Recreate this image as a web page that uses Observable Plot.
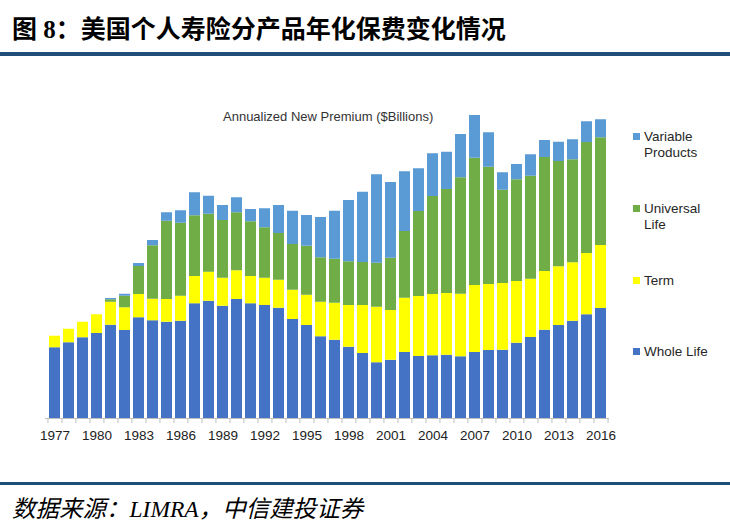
<!DOCTYPE html>
<html>
<head>
<meta charset="utf-8">
<script src="https://cdn.jsdelivr.net/npm/d3@7"></script>
<script src="https://cdn.jsdelivr.net/npm/@observablehq/plot@0.6"></script>
<style>
  html, body { margin: 0; padding: 0; background: #fff; }
  #page { position: relative; width: 730px; height: 531px; overflow: hidden; font-family: "Liberation Sans", Arial, sans-serif; }
  #title { position: absolute; left: 12px; top: 13px; font-family: "Liberation Serif", "Noto Sans CJK SC", serif; font-weight: bold; font-size: 25px; line-height: 34px; color: #000; white-space: nowrap; }
  #rule1 { position: absolute; left: 0; top: 52px; width: 730px; height: 4px; background: #1f4e79; }
  #chart { position: absolute; left: 0; top: 60px; }
  #ctitle { position: absolute; left: 223px; top: 109px; font-size: 13px; color: #333; white-space: nowrap; }
  .leg { position: absolute; left: 633px; font-size: 13.5px; line-height: 16px; color: #262626; }
  .leg .sw { position: absolute; left: 0; top: 4px; width: 7px; height: 7px; }
  .leg .tx { position: absolute; left: 11px; top: 0; white-space: nowrap; }
  #rule2 { position: absolute; left: 0; top: 482px; width: 730px; height: 3px; background: #1f4e79; }
  #source { position: absolute; left: 12px; top: 493px; font-family: "Liberation Serif", "Noto Sans CJK SC", serif; font-style: italic; font-size: 23.5px; line-height: 32px; color: #000; white-space: nowrap; }
</style>
</head>
<body>
<div id="page">
  <div id="title">图 8：美国个人寿险分产品年化保费变化情况</div>
  <div id="rule1"></div>
  <div id="chart"></div>
  <div id="ctitle">Annualized New Premium ($Billions)</div>
  <div id="legend"></div>
  <div id="rule2"></div>
  <div id="source">数据来源：LIMRA，中信建投证券</div>
</div>
<script>
const years = d3.range(1977, 2017);
const seriesNames = ["Whole Life", "Term", "Universal Life", "Variable Products"];
const seriesColors = ["#4472C4", "#FFFF00", "#70AD47", "#5B9BD5"];
const tickYears = [1977, 1980, 1983, 1986, 1989, 1992, 1995, 1998, 2001, 2004, 2007, 2010, 2013, 2016];

const wholeLife = [2.83, 3.03, 3.23, 3.40, 3.73, 3.52, 4.03, 3.91, 3.85, 3.89,
                   4.59, 4.69, 4.49, 4.76, 4.59, 4.52, 4.41, 3.96, 3.72, 3.27,
                   3.13, 2.85, 2.60, 2.23, 2.33, 2.64, 2.48, 2.51, 2.53, 2.47,
                   2.64, 2.72, 2.73, 3.01, 3.24, 3.53, 3.72, 3.89, 4.15, 4.40];
const term = [0.46, 0.54, 0.62, 0.75, 0.92, 0.91, 0.93, 0.86, 0.91, 1.00,
              1.09, 1.16, 1.12, 1.15, 1.09, 1.09, 1.12, 1.17, 1.21, 1.38,
              1.48, 1.67, 1.92, 2.22, 1.99, 2.17, 2.40, 2.45, 2.47, 2.50,
              2.68, 2.64, 2.67, 2.47, 2.33, 2.35, 2.35, 2.34, 2.45, 2.52];
const universalLife = [0, 0, 0, 0, 0.10, 0.46, 1.12, 2.14, 3.13, 2.92,
                       2.43, 2.32, 2.31, 2.32, 2.19, 2.02, 1.87, 1.83, 1.96, 1.78,
                       1.76, 1.75, 1.72, 1.76, 2.09, 2.67, 3.40, 3.92, 4.16, 4.66,
                       5.09, 4.69, 3.73, 4.07, 4.12, 4.56, 4.21, 4.12, 4.44, 4.31];
const variableProducts = [0, 0, 0, 0, 0.05, 0.08, 0.12, 0.21, 0.34, 0.50,
                          0.92, 0.72, 0.60, 0.60, 0.49, 0.76, 1.12, 1.33, 1.23, 1.61,
                          1.92, 2.45, 2.81, 3.54, 3.03, 2.39, 1.71, 1.71, 1.49, 1.73,
                          1.71, 1.38, 0.70, 0.61, 0.86, 0.68, 0.77, 0.80, 0.83, 0.72];

const seriesValues = [wholeLife, term, universalLife, variableProducts];
const table = [];
seriesNames.forEach((s, si) => {
  years.forEach((yr, i) => table.push({year: yr, series: s, value: seriesValues[si][i]}));
});

const step = 564 / 40;

const chart = Plot.plot({
  width: 730,
  height: 388,
  marginTop: 58,
  marginBottom: 30,
  marginLeft: 45,
  marginRight: 121,
  x: {type: "band", domain: years, paddingInner: 0.22, paddingOuter: 0.11, axis: null, label: null},
  y: {domain: [0, 12], axis: null},
  color: {domain: seriesNames, range: seriesColors},
  marks: [
    Plot.barY(table, Plot.stackY({x: "year", y: "value", fill: "series", order: seriesNames})),
    Plot.ruleY([0], {stroke: "#bfbfbf", strokeWidth: 1}),
    Plot.axisX({ticks: years, tickSize: 5, tickFormat: () => "", label: null, dx: -step / 2, stroke: "#bfbfbf"}),
    Plot.axisX({ticks: [2016], tickSize: 5, tickFormat: () => "", label: null, dx: step / 2, stroke: "#bfbfbf"}),
    Plot.axisX({ticks: tickYears, tickSize: 0, tickPadding: 12, label: null, tickFormat: d => String(d), fontSize: 13.5, fill: "#222", fontFamily: "Liberation Sans, Arial, sans-serif"})
  ]
});
document.getElementById("chart").appendChild(chart);

// legend
const legendTops = {"Variable Products": 129, "Universal Life": 201, "Term": 273, "Whole Life": 344};
const legendLines = {"Variable Products": "Variable<br>Products", "Universal Life": "Universal<br>Life", "Term": "Term", "Whole Life": "Whole Life"};
const leg = document.getElementById("legend");
seriesNames.slice().reverse().forEach(s => {
  const d = document.createElement("div");
  d.className = "leg";
  d.style.top = legendTops[s] + "px";
  const c = chart.scale("color").apply(s);
  d.innerHTML = `<div class="sw" style="background:${c}"></div><div class="tx">${legendLines[s]}</div>`;
  leg.appendChild(d);
});
</script>
</body>
</html>
